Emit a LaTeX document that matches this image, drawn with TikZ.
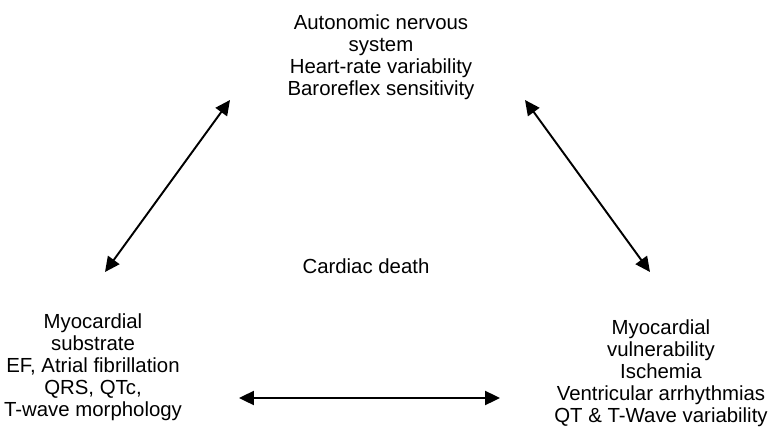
\documentclass[tikz,border=0pt]{standalone}
\usepackage{fontspec}
\setmainfont{Liberation Sans}
\usetikzlibrary{arrows.meta}
\tikzset{%
		label/.style={align=center,font=\fontsize{11.6}{12.5}\selectfont,inner sep=0pt},
		pfeil/.style={draw,line width=1.1pt,{Triangle[length=8.5pt,width=8pt]}-{Triangle[length=8.5pt,width=8pt]}}
	}

\begin{document}
\begin{tikzpicture}[x=0.02cm,y=-0.02cm]
    \useasboundingbox (0,0) rectangle (768,436) ;
    % texts
    \node[label] (ans) at (381,57) {Autonomic nervous\\system\\Heart-rate variability\\Baroreflex sensitivity} ;
    \node[label] (tod) at (366,266) {Cardiac death} ;
    \node[label] (sub) at (93,367) {Myocardial\\substrate\\EF, Atrial fibrillation\\QRS, QTc,\\T-wave morphology} ;
    \node[label] (vul) at (661,373) {Myocardial\\vulnerability\\Ischemia\\Ventricular arrhythmias\\QT \& T-Wave variability} ;
    % arrow ends
    \coordinate (ansL) at (230,100) ;
    \coordinate (ansR) at (525,100) ;
    \coordinate (subO) at (105,272) ;
    \coordinate (subR) at (239,398) ;
    \coordinate (vulO) at (650,272) ;
    \coordinate (vulL) at (500,398) ;
    \draw[pfeil] (subO) -- (ansL) ;
    \draw[pfeil] (ansR) -- (vulO) ;
    \draw[pfeil] (subR) -- (vulL) ;
\end{tikzpicture}
\end{document}
